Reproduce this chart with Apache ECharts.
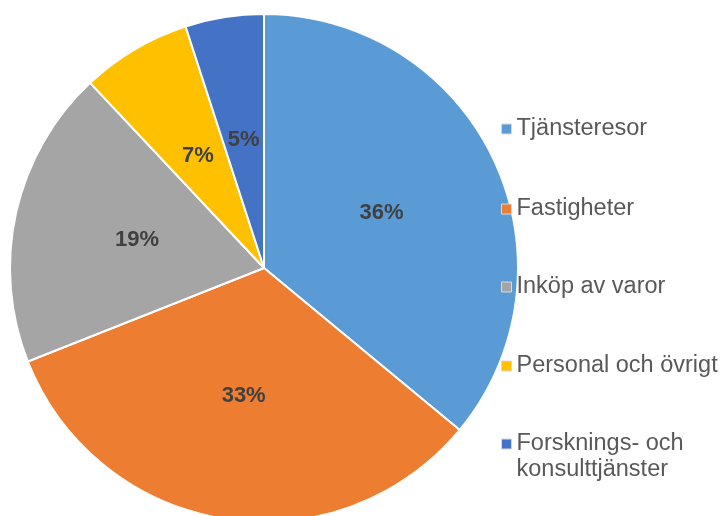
<!DOCTYPE html>
<html>
<head>
<meta charset="utf-8">
<script src="https://cdn.jsdelivr.net/npm/echarts@6/dist/echarts.min.js"></script>
<style>
    html, body { margin: 0; padding: 0; background: #fff; }
    #chart { width: 722px; height: 516px; }
</style>
</head>
<body>
<div id="chart"></div>
<script>
/*数据*/
var categories = ['Tjänsteresor', 'Fastigheter', 'Inköp av varor', 'Personal och övrigt', 'Forsknings- och\nkonsulttjänster'];
var values = [36, 33, 19, 7, 5];
var colors = ['#5B9BD5', '#ED7D31', '#A5A5A5', '#FFC000', '#4472C4'];

/*图例位置（图标中心）*/
var legendCenters = [129, 209, 287, 366, 444];

var chart = echarts.init(document.getElementById('chart'));

var legends = [];
for (var i = 0; i < categories.length; i++) {
    var twoLines = categories[i].indexOf('\n') >= 0;
    legends.push({
        data: [categories[i]],
        left: 501,
        // 两行的图例前面加一个空行，让图标和第一行对齐
        top: legendCenters[i] - (twoLines ? 39 : 13),
        padding: 0,
        itemWidth: 10,
        itemHeight: 10,
        itemGap: 0,
        icon: 'rect',
        selectedMode: false,
        formatter: twoLines ? function (name) { return '\n' + name; } : '{name}',
        itemStyle: { borderColor: '#d9d9d9', borderWidth: 1 },
        textStyle: {
            fontFamily: 'Liberation Sans, Arial, sans-serif',
            fontSize: 23.5,
            color: '#595959',
            lineHeight: 26
        }
    });
}

var option = {
    animation: false,
    color: colors,
    legend: legends,
    series: [{
        type: 'pie',
        center: [264, 268],
        radius: 254,
        startAngle: 90,
        clockwise: true,
        itemStyle: { borderColor: '#fff', borderWidth: 2 },
        label: {
            show: true,
            position: 'inside',
            formatter: '{c}%',
            fontFamily: 'Liberation Sans, Arial, sans-serif',
            fontSize: 22,
            fontWeight: 'bold',
            color: '#404040'
        },
        labelLine: { show: false },
        emphasis: { disabled: true },
        data: categories.map(function (name, idx) {
            return { name: name, value: values[idx] };
        })
    }]
};

chart.setOption(option);
</script>
</body>
</html>
